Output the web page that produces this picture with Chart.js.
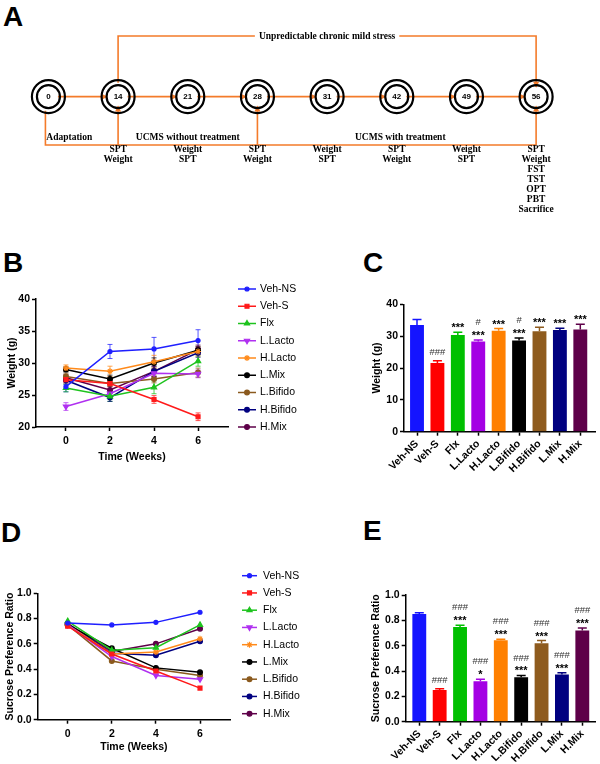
<!DOCTYPE html>
<html>
<head>
<meta charset="utf-8">
<script src="https://cdn.jsdelivr.net/npm/chart.js@4.4.1/dist/chart.umd.min.js"></script>
<style>
  body { margin: 0; background: #fff; width: 600px; height: 764px; position: relative; overflow: hidden; }
  canvas { position: absolute; }
  .tag { position: absolute; font: bold 28px "Liberation Sans", Arial, sans-serif; line-height: 1; }
</style>
</head>
<body>
<div class="tag" style="left:3px;top:3px">A</div>
<div class="tag" style="left:3px;top:249px">B</div>
<div class="tag" style="left:363px;top:249px">C</div>
<div class="tag" style="left:1px;top:519px">D</div>
<div class="tag" style="left:363px;top:517px">E</div>

<canvas id="timelineChart" width="600" height="245" style="left:0;top:0"></canvas>
<canvas id="weightLineChart" width="300" height="240" style="left:0;top:250px"></canvas>
<canvas id="weightBarChart" width="300" height="240" style="left:300px;top:250px"></canvas>
<canvas id="sptLineChart" width="300" height="264" style="left:0;top:500px"></canvas>
<canvas id="sptBarChart" width="300" height="264" style="left:300px;top:500px"></canvas>

<script>
// ---- panel A: study timeline ----
const days = ['0', '14', '21', '28', '31', '42', '49', '56'];
const dayTests = [
  [], ['SPT', 'Weight'], ['Weight', 'SPT'], ['SPT', 'Weight'], ['Weight', 'SPT'],
  ['SPT', 'Weight'], ['Weight', 'SPT'], ['SPT', 'Weight', 'FST', 'TST', 'OPT', 'PBT', 'Sacrifice']
];
const phaseLabels = ['Adaptation', 'UCMS without treatment', 'UCMS with treatment'];
const phaseAt = [0.3, 2, 5.05];
const stressLabel = 'Unpredictable chronic mild stress';
const stressAt = 4;
const checkArrows = [1, 3, 7];

// ---- panels B / D: time courses ----
const groups = ['Veh-NS', 'Veh-S', 'Flx', 'L.Lacto', 'H.Lacto', 'L.Mix', 'L.Bifido', 'H.Bifido', 'H.Mix'];
const weeks = [0, 2, 4, 6];
const weekTicks = [0, 2, 4, 6];

const wVehNS   = [26.3, 31.8, 32.2, 33.5];
const wVehS    = [27.4, 26.8, 24.3, 21.6];
const wFlx     = [26.1, 24.8, 26.2, 30.3];
const wLLacto  = [23.2, 25.2, 28.4, 28.3];
const wHLacto  = [29.2, 28.7, 30.2, 31.8];
const wLMix    = [29.0, 27.5, 30.0, 32.0];
const wLBifido = [27.9, 26.8, 27.5, 28.5];
const wHBifido = [27.3, 24.6, 28.7, 31.6];
const wHMix    = [27.7, 25.8, 28.7, 32.1];

const eVehNS   = [0.8, 1.1, 1.8, 1.7];
const eVehS    = [0.5, 0.5, 0.6, 0.6];
const eFlx     = [0.6, 0.8, 1.0, 0.8];
const eLLacto  = [0.6, 0.5, 0.6, 0.6];
const eHLacto  = [0.5, 0.8, 1.0, 0.7];
const eLMix    = [0.4, 0.6, 0.8, 0.6];
const eLBifido = [0.5, 0.5, 0.6, 0.7];
const eHBifido = [0.6, 0.6, 0.8, 0.7];
const eHMix    = [0.5, 0.6, 0.8, 0.7];

const sVehNS   = [0.765, 0.75, 0.77, 0.85];
const sVehS    = [0.74, 0.52, 0.385, 0.25];
const sFlx     = [0.78, 0.55, 0.57, 0.75];
const sLLacto  = [0.75, 0.50, 0.35, 0.32];
const sHLacto  = [0.75, 0.52, 0.535, 0.64];
const sLMix    = [0.75, 0.565, 0.41, 0.375];
const sLBifido = [0.75, 0.465, 0.40, 0.35];
const sHBifido = [0.76, 0.525, 0.51, 0.62];
const sHMix    = [0.76, 0.54, 0.60, 0.72];

const lineColors = ['#1f1fff', '#ff1a1a', '#1ec31e', '#b030f0', '#ff8a1a', '#000000', '#8b5a1e', '#000080', '#5e0049'];
const lineMarkers = ['circle', 'rect', 'triangle', 'triangle', 'star', 'circle', 'circle', 'circle', 'circle'];
const markerTurn = [0, 0, 0, 180, 0, 0, 0, 0, 0];
const markerSize = [2, 2.8, 3, 3, 3, 2.4, 2.4, 2.4, 2.4];

// ---- panels C / E: end-point bars ----
const barGroups = ['Veh-NS', 'Veh-S', 'Flx', 'L.Lacto', 'H.Lacto', 'L.Bifido', 'H.Bifido', 'L.Mix', 'H.Mix'];
const barColors = ['#1414ff', '#ff0000', '#00c000', '#a400e4', '#ff8000', '#000000', '#8e5b1e', '#000080', '#5e0049'];
const weightEnd    = [33.5, 21.6, 30.4, 28.3, 31.7, 28.6, 31.5, 31.9, 32.1];
const weightEndErr = [1.7, 0.7, 0.8, 0.5, 0.7, 0.8, 1.3, 0.6, 1.6];
const weightSig    = ['', '###', '***', '***', '***', '***', '***', '***', '***'];
const weightSig2   = ['', '', '', '#', '', '#', '', '', ''];
const sptEnd       = [0.85, 0.25, 0.747, 0.32, 0.642, 0.35, 0.62, 0.372, 0.72];
const sptEndErr    = [0.01, 0.01, 0.015, 0.015, 0.008, 0.015, 0.02, 0.015, 0.02];
const sptSig       = ['', '###', '***', '*', '***', '***', '***', '***', '***'];
const sptSig2      = ['', '', '###', '###', '###', '###', '###', '###', '###'];

const FONT = '"Liberation Sans", Arial, sans-serif';
const SERIF = '"Liberation Serif", "Times New Roman", serif';
const ORANGE = '#f47b2a';
Chart.defaults.font.family = FONT;
Chart.defaults.color = '#000';
Chart.defaults.animation = false;
Chart.defaults.responsive = false;
Chart.defaults.plugins.legend.display = false;
Chart.defaults.plugins.tooltip.enabled = false;

function fixSize(size) {
  return s => { if (s.isHorizontal()) s.height = size; else s.width = size; };
}

function axis(opts) {
  return {
    type: 'linear',
    min: opts.min,
    max: opts.max,
    offset: false,
    afterFit: fixSize(opts.size),
    afterBuildTicks: opts.ticks ? s => { s.ticks = opts.ticks.map(v => ({ value: v })); } : undefined,
    border: { display: true, color: '#000', width: 1.5 },
    grid: { display: true, offset: false, drawOnChartArea: false, drawTicks: true, tickLength: 4, tickWidth: 1.5, tickColor: '#000' },
    ticks: Object.assign({ color: '#000', padding: opts.pad, font: { size: 10.5, weight: 'bold' } }, opts.tickExtra || {}),
    title: opts.title ? { display: true, text: opts.title, color: '#000', font: { size: 10.5, weight: 'bold' }, padding: opts.titlePad } : { display: false }
  };
}

// error bars, drawn from each dataset's `errors` array
const errorBars = {
  id: 'errorBars',
  beforeDatasetsDraw(chart) {
    const { ctx } = chart;
    const ys = chart.scales.y;
    chart.data.datasets.forEach((ds, di) => {
      if (!ds.errors) return;
      const meta = chart.getDatasetMeta(di);
      meta.data.forEach((el, i) => {
        const v = ds.data[i].y;
        const e = ds.errors[i];
        const top = ys.getPixelForValue(v + e);
        const bot = ds.upOnly ? ys.getPixelForValue(v) : ys.getPixelForValue(v - e);
        const col = Array.isArray(ds.errorColor) ? ds.errorColor[i] : ds.errorColor;
        ctx.save();
        ctx.strokeStyle = col;
        ctx.globalAlpha = ds.upOnly ? 1 : 0.75;
        ctx.lineWidth = ds.errorWidth || 1;
        ctx.beginPath();
        ctx.moveTo(el.x, top); ctx.lineTo(el.x, bot);
        ctx.moveTo(el.x - ds.capHalf, top); ctx.lineTo(el.x + ds.capHalf, top);
        if (!ds.upOnly) { ctx.moveTo(el.x - ds.capHalf, bot); ctx.lineTo(el.x + ds.capHalf, bot); }
        ctx.stroke();
        ctx.restore();
      });
    });
  }
};

// GraphPad-style legend to the right of the plot
const sideLegend = {
  id: 'sideLegend',
  afterDraw(chart, args, opts) {
    const { ctx } = chart;
    chart.data.datasets.forEach((ds, i) => {
      const y = opts.y0 + i * opts.dy;
      ctx.save();
      ctx.strokeStyle = ds.borderColor;
      ctx.fillStyle = ds.borderColor;
      ctx.lineWidth = ds.borderWidth;
      ctx.beginPath(); ctx.moveTo(opts.x0, y); ctx.lineTo(opts.x1, y); ctx.stroke();
      ctx.lineWidth = 1.2;
      Chart.helpers.drawPoint(ctx, { pointStyle: ds.pointStyle, rotation: ds.pointRotation, radius: ds.pointRadius, borderWidth: 1.2 }, (opts.x0 + opts.x1) / 2, y);
      ctx.fillStyle = '#000';
      ctx.font = '10.5px ' + FONT;
      ctx.textBaseline = 'middle';
      ctx.textAlign = 'left';
      ctx.fillText(ds.label, opts.tx, y);
      ctx.restore();
    });
  }
};

// significance marks over bars
const sigMarks = {
  id: 'sigMarks',
  afterDatasetsDraw(chart, args, opts) {
    const { ctx } = chart;
    const ys = chart.scales.y;
    const ds = chart.data.datasets[0];
    const meta = chart.getDatasetMeta(0);
    meta.data.forEach((el, i) => {
      const top = ys.getPixelForValue(ds.data[i].y + ds.errors[i]);
      let y = top;
      [opts.low[i], opts.high[i]].forEach((mark, k) => {
        if (!mark) return;
        const star = mark.charAt(0) === '*';
        ctx.save();
        ctx.textAlign = 'center';
        ctx.textBaseline = 'middle';
        if (star) {
          ctx.font = 'bold 11px ' + FONT;
          ctx.fillStyle = '#000';
          y = (k === 0 ? top - 4 : y - 13);
        } else {
          ctx.font = '9.5px ' + FONT;
          ctx.fillStyle = '#333';
          y = (k === 0 ? top - 8 : y - 13.5);
        }
        ctx.fillText(mark, el.x, y);
        ctx.restore();
      });
    });
  }
};

// ---- A: timeline drawn on a hidden-axis scatter chart ----
const ROW = 92, TOP = 20.5, BASE = 149, R_OUT = 16.5, R_IN = 11.5;

function arrowHead(ctx, x, y, dx, dy) {
  const L = 6, W = 3;
  ctx.beginPath();
  ctx.moveTo(x, y);
  ctx.lineTo(x - dx * L - dy * W, y - dy * L + dx * W);
  ctx.lineTo(x - dx * L + dy * W, y - dy * L - dx * W);
  ctx.closePath();
  ctx.fill();
}

const timeline = {
  id: 'timeline',
  beforeDatasetsDraw(chart) {
    const { ctx, scales: { x, y } } = chart;
    const px = i => x.getPixelForValue(i);
    const py = v => y.getPixelForValue(v);
    ctx.save();
    ctx.strokeStyle = ORANGE;
    ctx.fillStyle = ORANGE;
    ctx.lineWidth = 1.6;
    // day-to-day chain
    for (let i = 0; i < days.length - 1; i++) {
      ctx.beginPath();
      ctx.moveTo(px(i) + R_IN - 2, py(ROW));
      ctx.lineTo(px(i + 1) - R_IN, py(ROW));
      ctx.stroke();
      arrowHead(ctx, px(i + 1) - R_IN + 1, py(ROW), 1, 0);
    }
    // stress bracket on top
    ctx.font = 'bold 9.5px ' + SERIF;
    const tw = ctx.measureText(stressLabel).width;
    const last = days.length - 1;
    ctx.beginPath();
    ctx.moveTo(px(1), py(ROW - R_OUT));
    ctx.lineTo(px(1), py(TOP));
    ctx.lineTo(px(stressAt) - tw / 2 - 4, py(TOP));
    ctx.moveTo(px(stressAt) + tw / 2 + 4, py(TOP));
    ctx.lineTo(px(last), py(TOP));
    ctx.lineTo(px(last), py(ROW - R_IN));
    ctx.stroke();
    arrowHead(ctx, px(last), py(ROW - R_IN + 1), 0, 1);
    // baseline with test arrows
    ctx.beginPath();
    ctx.moveTo(px(0) - 3, py(ROW + R_OUT));
    ctx.lineTo(px(0) - 3, py(BASE));
    ctx.lineTo(px(last), py(BASE));
    checkArrows.forEach(i => { ctx.moveTo(px(i), py(BASE)); ctx.lineTo(px(i), py(ROW + R_IN)); });
    ctx.stroke();
    checkArrows.forEach(i => arrowHead(ctx, px(i), py(ROW + R_IN - 1), 0, -1));
    ctx.restore();
  },
  afterDraw(chart) {
    const { ctx, scales: { x, y } } = chart;
    const px = i => x.getPixelForValue(i);
    const py = v => y.getPixelForValue(v);
    ctx.save();
    ctx.fillStyle = '#000';
    ctx.textAlign = 'center';
    ctx.textBaseline = 'middle';
    ctx.font = 'bold 8px "Liberation Sans Narrow", ' + FONT;
    days.forEach((d, i) => ctx.fillText(d, px(i), py(ROW)));
    ctx.font = 'bold 9.5px ' + SERIF;
    ctx.fillText(stressLabel, px(stressAt), py(TOP));
    phaseLabels.forEach((t, i) => ctx.fillText(t, px(phaseAt[i]), py(BASE - 8.5)));
    dayTests.forEach((list, i) => {
      list.forEach((t, k) => ctx.fillText(t, px(i), py(155 + k * 11.8)));
    });
    ctx.restore();
  }
};

new Chart(document.getElementById('timelineChart'), {
  type: 'scatter',
  data: {
    datasets: [R_OUT, R_IN].map(r => ({
      data: days.map((d, i) => ({ x: i, y: ROW })),
      pointRadius: r,
      pointBorderColor: '#000',
      pointBackgroundColor: 'rgba(0,0,0,0)',
      pointBorderWidth: 2.2
    }))
  },
  options: {
    layout: { padding: 0 },
    scales: {
      x: { type: 'linear', display: false, min: -0.4266, max: 7.6487 },
      y: { type: 'linear', display: false, min: 0, max: 245, reverse: true }
    }
  },
  plugins: [timeline]
});

// ---- B / D line charts ----
function lineDatasets(series, errs) {
  return groups.map((g, i) => ({
    label: g,
    data: weeks.map((w, k) => ({ x: w, y: series[i][k] })),
    errors: errs ? errs[i] : null,
    errorColor: lineColors[i],
    capHalf: 2.5,
    borderColor: lineColors[i],
    backgroundColor: lineColors[i],
    pointBackgroundColor: lineColors[i],
    pointBorderColor: lineColors[i],
    borderWidth: 1.5,
    pointStyle: lineMarkers[i],
    pointRotation: markerTurn[i],
    pointRadius: markerSize[i],
    pointBorderWidth: 1.2,
    tension: 0
  }));
}

new Chart(document.getElementById('weightLineChart'), {
  type: 'line',
  data: {
    datasets: lineDatasets(
      [wVehNS, wVehS, wFlx, wLLacto, wHLacto, wLMix, wLBifido, wHBifido, wHMix],
      [eVehNS, eVehS, eFlx, eLLacto, eHLacto, eLMix, eLBifido, eHBifido, eHMix])
  },
  options: {
    layout: { padding: { left: 0, top: 49, right: 72, bottom: 23 } },
    scales: {
      x: axis({ min: -1.36, max: 7.36, size: 40, ticks: weekTicks, pad: 4, title: 'Time (Weeks)', titlePad: { top: 0, bottom: 4 } }),
      y: axis({ min: 20, max: 40, size: 36, pad: 2, tickExtra: { stepSize: 5 }, title: 'Weight (g)', titlePad: { top: 6, bottom: 0 } })
    },
    plugins: { sideLegend: { x0: 238, x1: 256, tx: 260, y0: 39, dy: 17.25 } }
  },
  plugins: [errorBars, sideLegend]
});

new Chart(document.getElementById('sptLineChart'), {
  type: 'line',
  data: {
    datasets: lineDatasets([sVehNS, sVehS, sFlx, sLLacto, sHLacto, sLMix, sLBifido, sHBifido, sHMix], null)
  },
  options: {
    layout: { padding: { left: 0, top: 93.3, right: 70, bottom: 4.3 } },
    scales: {
      x: axis({ min: -1.36, max: 7.36, size: 40, ticks: weekTicks, pad: 4, title: 'Time (Weeks)', titlePad: { top: 0, bottom: 6.4 } }),
      y: axis({ min: 0, max: 1, size: 37.7, pad: 2, tickExtra: { stepSize: 0.2, callback: v => v.toFixed(1) }, title: 'Sucrose Preference Ratio', titlePad: { top: 3.7, bottom: 0 } })
    },
    plugins: { sideLegend: { x0: 242, x1: 257, tx: 263, y0: 75.7, dy: 17.25 } }
  },
  plugins: [errorBars, sideLegend]
});

// ---- C / E bar charts ----
function barChart(id, values, errs, yOpts, area, sig) {
  return new Chart(document.getElementById(id), {
    type: 'bar',
    data: {
      datasets: [{
        data: barGroups.map((g, i) => ({ x: i, y: values[i] })),
        errors: errs,
        upOnly: true,
        errorColor: barColors,
        errorWidth: 1.5,
        capHalf: 4.5,
        backgroundColor: barColors,
        borderWidth: 0,
        barPercentage: 0.68,
        categoryPercentage: 1
      }]
    },
    options: {
      layout: { padding: { left: area.padLeft, top: area.top, right: area.padRight, bottom: area.padBottom } },
      scales: {
        x: axis({ min: area.xMin, max: area.xMax, size: area.xSize, ticks: barGroups.map((g, i) => i), pad: 2,
          tickExtra: { minRotation: 45, maxRotation: 45, autoSkip: false, callback: v => barGroups[v] } }),
        y: axis(yOpts)
      },
      plugins: { sigMarks: sig }
    },
    plugins: [errorBars, sigMarks]
  });
}

barChart('weightBarChart', weightEnd, weightEndErr,
  { min: 0, max: 40, size: 44, pad: 2, tickExtra: { stepSize: 10 }, title: 'Weight (g)', titlePad: { top: 10.4, bottom: 0 } },
  { padLeft: 60, padRight: 5, top: 54.3, padBottom: 8.3, xSize: 50, xMin: -0.637, xMax: 8.72 },
  { low: weightSig, high: weightSig2 });

barChart('sptBarChart', sptEnd, sptEndErr,
  { min: 0, max: 1, size: 45.7, pad: 2, tickExtra: { stepSize: 0.2, callback: v => v.toFixed(1) }, title: 'Sucrose Preference Ratio', titlePad: { top: 9.7, bottom: 0 } },
  { padLeft: 60, padRight: 5, top: 95, padBottom: 2.3, xSize: 40, xMin: -0.667, xMax: 8.623 },
  { low: sptSig, high: sptSig2 });
</script>
</body>
</html>
